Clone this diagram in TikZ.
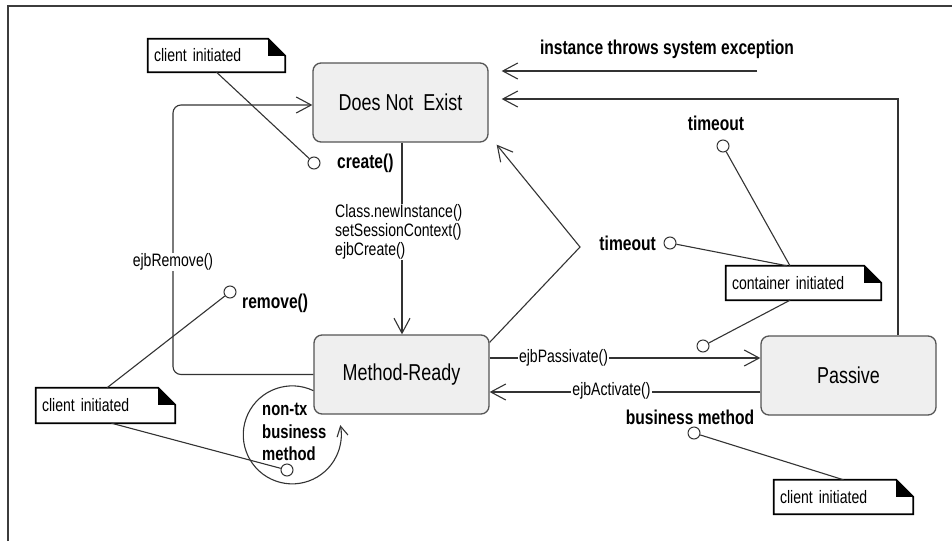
\documentclass[tikz,border=0pt]{standalone}
\usepackage{fontspec}
\setmainfont[FakeStretch=0.78]{Liberation Sans}
\usetikzlibrary{arrows.meta}

\definecolor{boxfill}{HTML}{EFEFEF}
\definecolor{boxedge}{HTML}{555555}
\definecolor{wire}{HTML}{333333}
\definecolor{framecol}{HTML}{3C3C3C}

\tikzset{
  state/.style={draw=boxedge, line width=1.3pt, fill=boxfill, rounded corners=8pt,
    minimum width=175pt, minimum height=79pt, inner sep=0pt,
    font=\fontsize{23}{27}\selectfont},
  note/.style={fill=white, inner xsep=6pt, inner ysep=0pt, align=left,
    font=\fontsize{18}{21}\selectfont},
  notedge/.style={draw=black, line width=1.8pt},
  port/.style={circle, draw=wire, fill=white, line width=1pt, minimum size=12pt, inner sep=0pt},
  conn/.style={draw=wire, line width=1.1pt},
  trans/.style={conn, -{Straight Barb[length=15pt,width=16pt]}},
  lbl/.style={inner sep=1pt, font=\fontsize{18}{19}\selectfont},
  evt/.style={inner sep=1pt, font=\bfseries\fontsize{20}{22}\selectfont},
}

% UML note outline with a black folded corner
\newcommand\dogear[1]{%
  \draw[notedge] (#1.south west) -- (#1.north west) -- ([xshift=-17pt]#1.north east)
    -- ([yshift=-17pt]#1.north east) -- (#1.south east) -- cycle;
  \fill[black] ([xshift=-17pt]#1.north east) -- ([xshift=-17pt,yshift=-17pt]#1.north east)
    -- ([yshift=-17pt]#1.north east) -- cycle;}

\begin{document}
\begin{tikzpicture}[x=1pt,y=-1pt]
\useasboundingbox (0,0) rectangle (952,541);
\fill[white] (0,0) rectangle (952,541);
\draw[framecol, line width=2.4pt] (8,541) -- (8,6) -- (952,6);

% states
\node[state] (dne) at (400.5,102.5) {Does Not~~Exist};
\node[state] (mr)  at (401.5,374.5) {Method-Ready};
\node[state] (pv)  at (848.5,375.5) {Passive};

% notes
\node[note, text width=125pt, minimum height=33pt] (n1) at (216.5,55.5) {client initiated};
\node[note, text width=127pt, minimum height=35pt] (n2) at (105.5,405.5) {client initiated};
\node[note, text width=143pt, minimum height=34pt] (nc) at (803.5,283) {container initiated};
\node[note, text width=127pt, minimum height=34pt] (n3) at (843.5,497) {client initiated};
\dogear{n1}
\dogear{n2}
\dogear{nc}
\dogear{n3}

% helper coordinates for bends and free ends
\coordinate (rk) at (173,105);
\coordinate (zz) at (580,247);
\coordinate (pk) at (898,99);
\coordinate (exc) at (757,71);

% transitions
\draw[trans] ([xshift=1.5pt]dne.south) -- ([xshift=1.5pt]dne.south |- mr.north);
\draw[trans, rounded corners=8pt] (mr.west) -| (rk) -- (rk -| dne.west);
\draw[trans] ([yshift=-8pt]mr.north east) -- (zz) -- ([xshift=8pt,yshift=-2pt]dne.south east);
\draw[trans] ([yshift=16.5pt]mr.east) -- ([yshift=16.5pt]mr.east -| pv.west);
\draw[trans] ([yshift=-16.5pt]pv.west) -- ([yshift=-16.5pt]pv.west -| mr.east);
\draw[trans, shorten >=13pt] (pv.north -| pk) -- (pk) -- (pk -| dne.east);
\draw[trans, shorten >=13pt] (exc) -- (exc -| dne.east);
\draw[conn, -{Straight Barb[length=10pt,width=11pt]}]
  ([yshift=24pt]mr.south west) arc[start angle=-64.5, end angle=-371.5, radius=49];

% transition labels
\node[lbl, fill=white, align=left, anchor=west] (ctor) at (334,232)
  {Class.newInstance()\\setSessionContext()\\ejbCreate()};
\node[lbl, fill=white] (lrm) at (173,262) {ejbRemove()};
\node[lbl, fill=white] (lps) at (563.5,358) {ejbPassivate()};
\node[lbl, fill=white] (lac) at (611.5,391) {ejbActivate()};
\node[evt] (lex) at (667,49) {instance throws system exception};

% events with their ports
\node[port] (pc) at (314,163) {};
\node[evt, anchor=west] (lc) at (336,163) {create()};
\node[port] (pr) at (230,292) {};
\node[evt, anchor=west] (lr) at (241,303) {remove()};
\node[port] (pn) at (287,470) {};
\node[evt, anchor=west, align=left, font=\bfseries\fontsize{19}{22.5}\selectfont] (ln) at (261,432)
  {non-tx\\business\\method};
\node[port] (pt1) at (723,146) {};
\node[evt] (lt1) at (716,123) {timeout};
\node[port] (pt2) at (670,243) {};
\node[evt, anchor=east] (lt2) at (657,243) {timeout};
\node[port] (pp) at (703,346) {};
\node[port] (pb) at (694,433) {};
\node[evt] (lb) at (690,417) {business method};

% note anchors
\draw[conn] (n1.south) -- (pc);
\draw[conn] ([xshift=1.5pt]n2.north) -- (pr);
\draw[conn] ([xshift=6pt]n2.south) -- (pn);
\draw[conn] ([xshift=-13.5pt]nc.north) -- (pt1);
\draw[conn] ([xshift=-16.5pt]nc.north) -- (pt2);
\draw[conn] ([xshift=-13.5pt]nc.south) -- (pp);
\draw[conn] (n3.north) -- (pb);
\end{tikzpicture}
\end{document}
